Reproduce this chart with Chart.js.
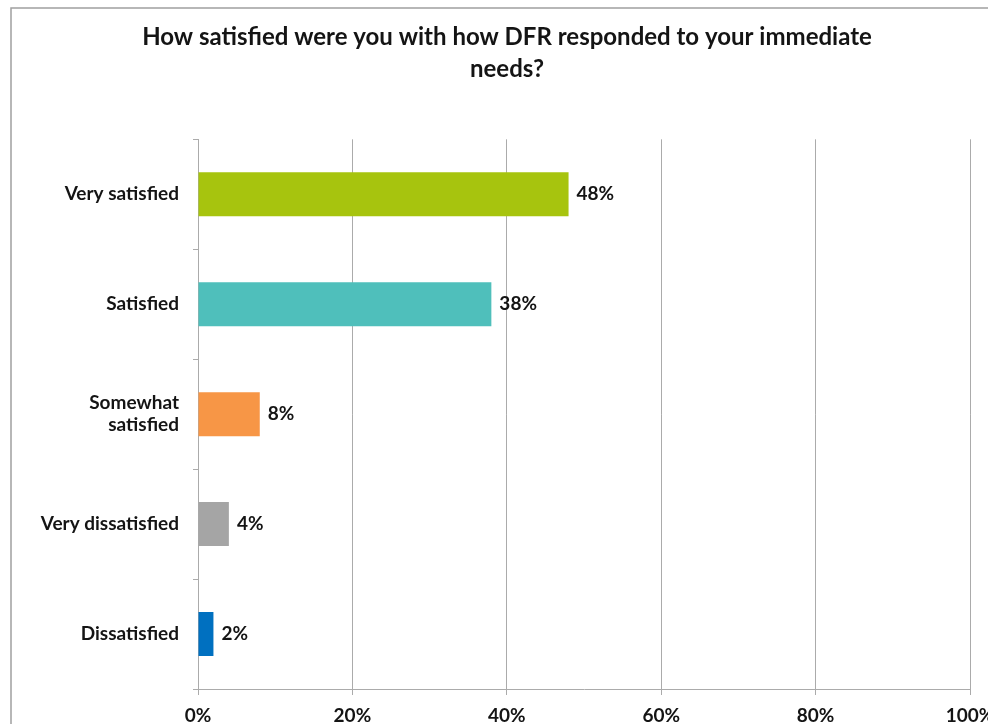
<!DOCTYPE html>
<html>
<head>
<meta charset="utf-8">
<script src="https://cdn.jsdelivr.net/npm/chart.js@4"></script>
<style>
  html, body { margin: 0; padding: 0; background: #ffffff; }
  #wrap { width: 988px; height: 724px; position: relative; }
</style>
</head>
<body>
<div id="wrap"><canvas id="chart" width="988" height="724"></canvas></div>
<script>
// Survey answers and their shares (percent)
const categories = ['Very satisfied', 'Satisfied', ['Somewhat', 'satisfied'], 'Very dissatisfied', 'Dissatisfied'];
const shares = [48, 38, 8, 4, 2];
const xTickValues = [0, 20, 40, 60, 80, 100];
const titleLines = ['How satisfied were you with how DFR responded to your immediate', 'needs?'];

// Bar fills, one per answer
const barColors = ['#a7c40e', '#4fbfbb', '#f79646', '#a5a5a5', '#0070c0'];

const FONT = 'Lato, "Noto Sans", sans-serif';
const TEXT = '#141414';
const GRID = '#ababab';
const LABEL_SIZE = 19;

// Outer frame around the chart
const framePlugin = {
  id: 'frame',
  beforeDraw(chart) {
    const ctx = chart.ctx;
    ctx.save();
    ctx.strokeStyle = '#a0a0a0';
    ctx.lineWidth = 1.5;
    ctx.strokeRect(11, 8, 1200, 1000);
    ctx.restore();
  }
};

// Percent labels just past the end of each bar
const valueLabels = {
  id: 'valueLabels',
  afterDatasetsDraw(chart) {
    const ctx = chart.ctx;
    const meta = chart.getDatasetMeta(0);
    ctx.save();
    ctx.font = 'bold ' + LABEL_SIZE + 'px ' + FONT;
    ctx.fillStyle = TEXT;
    ctx.textAlign = 'left';
    ctx.textBaseline = 'middle';
    meta.data.forEach((bar, i) => {
      ctx.fillText(shares[i] + '%', bar.x + 8, bar.y);
    });
    ctx.restore();
  }
};

new Chart(document.getElementById('chart'), {
  type: 'bar',
  data: {
    labels: categories,
    datasets: [{
      data: shares,
      backgroundColor: barColors,
      borderWidth: 0,
      categoryPercentage: 1,
      barPercentage: 0.4
    }]
  },
  options: {
    indexAxis: 'y',
    responsive: false,
    animation: false,
    layout: { padding: { left: 26, right: 0, top: 0, bottom: 0 } },
    plugins: {
      legend: { display: false },
      tooltip: { enabled: false },
      title: {
        display: true,
        text: titleLines,
        color: TEXT,
        font: { family: FONT, size: 24, weight: 'bold', lineHeight: 1.34 },
        padding: { top: 21, bottom: 54 }
      }
    },
    scales: {
      x: {
        min: 0,
        max: 100,
        afterBuildTicks(scale) {
          scale.ticks = xTickValues.map(v => ({ value: v }));
        },
        afterFit(scale) {
          scale.height = 35;
          // let the last tick label run past the canvas edge
          scale.paddingRight = 18;
        },
        ticks: {
          callback: v => v + '%',
          color: TEXT,
          font: { family: FONT, size: LABEL_SIZE, weight: 'bold' },
          padding: 9,
          maxRotation: 0
        },
        grid: { color: GRID, lineWidth: 1, tickLength: 6, drawTicks: true },
        border: { color: GRID, width: 1 }
      },
      y: {
        afterFit(scale) { scale.width = 172; },
        ticks: {
          color: TEXT,
          font: { family: FONT, size: LABEL_SIZE, weight: 'bold', lineHeight: 1.15 },
          padding: 14
        },
        grid: { offset: true, drawOnChartArea: false, color: GRID, tickLength: 5 },
        border: { color: GRID, width: 1 }
      }
    }
  },
  plugins: [framePlugin, valueLabels]
});
</script>
</body>
</html>
